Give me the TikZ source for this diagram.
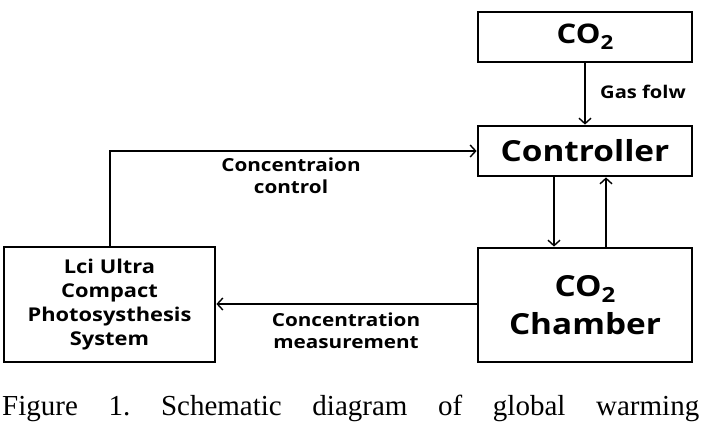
\documentclass[tikz,border=0pt]{standalone}
\usepackage{fontspec}
\setmainfont{Liberation Serif}
\newfontfamily\boxfont[FakeStretch=1.15]{Open Sans}
\usetikzlibrary{arrows.meta}
\newcommand\subtwo{\raisebox{-0.22em}{\scalebox{0.72}{2}}}
\tikzset{
  blk/.style={draw=black, line width=2.8pt, minimum width=214pt, inner sep=0pt, align=center, font=\boxfont\bfseries},
  conn/.style={line width=1.5pt, -{Straight Barb[length=5.5pt,width=12pt,line width=1.4pt]}},
  lbl/.style={font=\boxfont\bfseries\fontsize{18}{22}\selectfont, align=center, inner sep=0pt}
}
\begin{document}
\frenchspacing
\begin{tikzpicture}[x=1pt,y=-1pt]
\useasboundingbox (0,0) rectangle (701,429);
\node[blk, minimum height=50pt, font=\boxfont\bfseries\fontsize{27}{30}\selectfont] (co2) at (585,37) {CO\subtwo};
\node[blk, minimum height=50pt, font=\boxfont\bfseries\fontsize{29}{34}\selectfont] (ctrl) at (585,151) {Controller};
\node[blk, minimum height=114pt, font=\boxfont\bfseries\fontsize{29}{38}\selectfont] (ch) at (585,305) {CO\subtwo\\Chamber};
\node[blk, minimum width=211pt, minimum height=115pt, font=\boxfont\bfseries\fontsize{19}{24}\selectfont] (lci) at (109.5,304.5) {Lci Ultra\\Compact\\Photosysthesis\\System};
\draw[conn] (co2.south) -- (ctrl.north);
\draw[conn] ([xshift=-31pt]ctrl.south) -- ([xshift=-31pt]ch.north);
\draw[conn] ([xshift=21pt]ch.north) -- ([xshift=21pt]ctrl.south);
\coordinate (cc) at (110,151);
\draw[conn] (lci.north -| cc) -- (cc) -- (ctrl.west);
\draw[conn] (ch.west |- 0,304) -- (lci.east |- 0,304);
\node[lbl, font=\boxfont\bfseries\fontsize{17.5}{20}\selectfont, anchor=west] (gas) at (600,92) {Gas folw};
\node[lbl] (cl) at (291,176) {Concentraion\\control};
\node[lbl] (ml) at (346,331) {Concentration\\measurement};
\node[inner sep=0pt, anchor=base west, font=\fontsize{29}{34}\selectfont] (cap) at (2,415) {\makebox[697pt][s]{Figure 1. Schematic diagram of global warming}};
\end{tikzpicture}
\end{document}
